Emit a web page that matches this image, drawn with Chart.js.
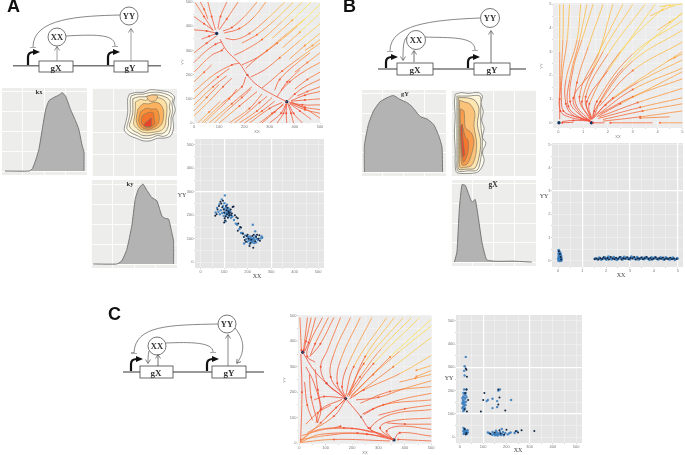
<!DOCTYPE html>
<html>
<head>
<meta charset="utf-8">
<title>Panels</title>
<script src="https://cdn.jsdelivr.net/npm/chart.js@4"></script>
<style>
  html, body { margin: 0; padding: 0; background: #fff; }
  body { position: relative; width: 685px; height: 455px; overflow: hidden; }
  canvas { position: absolute; filter: blur(0.4px); }
  svg { position: absolute; left: 0; top: 0; filter: blur(0.35px); }
  .srf { font-family: "Liberation Serif", serif; font-weight: bold; fill: #333; }
  .nm { font-family: "Liberation Serif", serif; fill: #444; font-size: 6px; text-anchor: middle; }
  .sm { font-family: "Liberation Sans", sans-serif; fill: #777; font-size: 4px; text-anchor: middle; }
  .tag { font-family: "Liberation Sans", sans-serif; font-weight: bold; font-size: 18px; fill: #111; }
</style>
</head>
<body>
<svg width="685" height="455" viewBox="0 0 685 455" fill="none">
  <defs>
    <marker id="open" markerWidth="6" markerHeight="6" refX="4" refY="3" orient="auto" markerUnits="userSpaceOnUse">
      <path d="M0.5 0.5L4.5 3L0.5 5.5" stroke="#555" stroke-width="0.7" fill="none"/>
    </marker>
    <marker id="bar" markerWidth="6" markerHeight="6" refX="0.5" refY="3" orient="auto" markerUnits="userSpaceOnUse">
      <path d="M0.5 0V6" stroke="#555" stroke-width="1"/>
    </marker>
    <marker id="solid" markerWidth="8" markerHeight="8" refX="3" refY="4" orient="auto" markerUnits="userSpaceOnUse">
      <path d="M0 1L7 4L0 7Z" fill="#111"/>
    </marker>
  </defs>

  <!-- A -->
  <text class="tag" x="7" y="12">A</text>
  <path d="M13 65.7H161" stroke="#777" stroke-width="1.6"/>
  <path d="M28 65V57Q28 52 34 52H36" stroke="#111" stroke-width="2.2" marker-end="url(#solid)"/>
  <path d="M108 65V57Q108 52 114 52H116" stroke="#111" stroke-width="2.2" marker-end="url(#solid)"/>
  <rect x="39" y="61" width="34" height="11" fill="#fff" stroke="#444" stroke-width="0.8"/>
  <rect x="114" y="61" width="34" height="11" fill="#fff" stroke="#444" stroke-width="0.8"/>
  <text class="srf" x="56" y="70.5" font-size="9" text-anchor="middle">gX</text>
  <text class="srf" x="130" y="70.5" font-size="9" text-anchor="middle">gY</text>
  <circle cx="57" cy="37" r="9" fill="#fff" stroke="#555" stroke-width="0.8"/>
  <circle cx="129" cy="16" r="9" fill="#fff" stroke="#555" stroke-width="0.8"/>
  <text class="srf" x="57" y="40" font-size="8.5" text-anchor="middle">XX</text>
  <text class="srf" x="129" y="19" font-size="8.5" text-anchor="middle">YY</text>
  <path d="M57 61V47" stroke="#888" stroke-width="0.8" marker-end="url(#open)"/>
  <path d="M131 61V29" stroke="#888" stroke-width="0.8" marker-end="url(#open)"/>
  <path d="M120 15C80 16 33 18 33 47" stroke="#555" stroke-width="0.7" marker-end="url(#bar)"/>
  <path d="M66 36C100 34 115 35 115 46" stroke="#555" stroke-width="0.7" marker-end="url(#bar)"/>

  <!-- B -->
  <text class="tag" x="343" y="12">B</text>
  <path d="M378 69H526" stroke="#777" stroke-width="1.6"/>
  <path d="M386 68V62Q386 57 392 57H394" stroke="#111" stroke-width="2.2" marker-end="url(#solid)"/>
  <path d="M468 68V62Q468 57 474 57H476" stroke="#111" stroke-width="2.2" marker-end="url(#solid)"/>
  <rect x="397" y="63" width="36" height="12" fill="#fff" stroke="#444" stroke-width="0.8"/>
  <rect x="474" y="63" width="36" height="12" fill="#fff" stroke="#444" stroke-width="0.8"/>
  <text class="srf" x="415" y="72.5" font-size="9" text-anchor="middle">gX</text>
  <text class="srf" x="492" y="72.5" font-size="9" text-anchor="middle">gY</text>
  <circle cx="416" cy="40" r="9.5" fill="#fff" stroke="#555" stroke-width="0.8"/>
  <circle cx="490" cy="18" r="9.5" fill="#fff" stroke="#555" stroke-width="0.8"/>
  <text class="srf" x="416" y="43" font-size="8.5" text-anchor="middle">XX</text>
  <text class="srf" x="490" y="21" font-size="8.5" text-anchor="middle">YY</text>
  <path d="M414 62V51" stroke="#333" stroke-width="0.7" marker-end="url(#open)"/>
  <path d="M491 63V31" stroke="#333" stroke-width="0.7" marker-end="url(#open)"/>
  <path d="M407 37C403 40 403 50 403 60" stroke="#555" stroke-width="0.7" marker-end="url(#open)"/>
  <path d="M480 18C430 20 390 25 390 51" stroke="#555" stroke-width="0.7" marker-end="url(#bar)"/>
  <path d="M425 37C450 38 475 36 475 50" stroke="#555" stroke-width="0.7" marker-end="url(#bar)"/>

  <!-- C -->
  <text class="tag" x="108" y="320">C</text>
  <path d="M123 372H264" stroke="#777" stroke-width="1.6"/>
  <path d="M131 371V364Q131 359 137 359H139" stroke="#111" stroke-width="2.2" marker-end="url(#solid)"/>
  <path d="M207 371V364Q207 359 213 359H215" stroke="#111" stroke-width="2.2" marker-end="url(#solid)"/>
  <rect x="140" y="366" width="33" height="12" fill="#fff" stroke="#444" stroke-width="0.8"/>
  <rect x="212" y="366" width="34" height="12" fill="#fff" stroke="#444" stroke-width="0.8"/>
  <text class="srf" x="156" y="375.5" font-size="9" text-anchor="middle">gX</text>
  <text class="srf" x="229" y="375.5" font-size="9" text-anchor="middle">gY</text>
  <circle cx="157" cy="346" r="9" fill="#fff" stroke="#555" stroke-width="0.8"/>
  <circle cx="227" cy="324" r="9" fill="#fff" stroke="#555" stroke-width="0.8"/>
  <text class="srf" x="157" y="349" font-size="8.5" text-anchor="middle">XX</text>
  <text class="srf" x="227" y="327" font-size="8.5" text-anchor="middle">YY</text>
  <path d="M158 366V355" stroke="#333" stroke-width="0.7" marker-end="url(#open)"/>
  <path d="M228 366V335" stroke="#555" stroke-width="0.7" marker-end="url(#open)"/>
  <path d="M149 351C148 355 148 359 148 363" stroke="#555" stroke-width="0.7" marker-end="url(#open)"/>
  <path d="M218 324C170 325 135 325 134 353" stroke="#555" stroke-width="0.7" marker-end="url(#bar)"/>
  <path d="M166 343C190 342 213 342 213 352" stroke="#555" stroke-width="0.7" marker-end="url(#bar)"/>
  <path d="M235 328C245 340 245 352 237 363" stroke="#555" stroke-width="0.7" marker-end="url(#open)"/>

  <!-- noms des panneaux et des axes -->
  <text class="srf" x="39" y="94" font-size="6.5" text-anchor="middle">kx</text>
  <text class="srf" x="130" y="186" font-size="6.5" text-anchor="middle">ky</text>
  <text class="srf" x="405" y="96" font-size="6.5" text-anchor="middle">gY</text>
  <text class="srf" x="493" y="187" font-size="7.5" text-anchor="middle">gX</text>
  <text class="nm" x="182" y="197">YY</text>
  <text class="nm" x="257" y="278">XX</text>
  <text class="nm" x="544" y="198">YY</text>
  <text class="nm" x="621" y="276.5">XX</text>
  <text class="nm" x="449" y="380">YY</text>
  <text class="nm" x="518" y="452">XX</text>
  <text class="sm" transform="translate(184 62) rotate(-90)">YY</text>
  <text class="sm" transform="translate(543 66) rotate(-90)">YY</text>
  <text class="sm" transform="translate(286 380) rotate(-90)">YY</text>
</svg>

<script>
// graduations
const ticksHundreds = [0, 50, 100, 150, 200, 250, 300, 350, 400, 450, 500];
const ticksUnits = [0, .5, 1, 1.5, 2, 2.5, 3, 3.5, 4, 4.5, 5];

// densites, x puis y
const kxX = [4.6, 32.7, 36.5, 40.4, 44.2, 48, 52, 55.8, 61.5, 67.3, 71, 75, 80.8, 86.5, 90.4, 94.2, 96.5, 96.5];
const kxY = [0, 0, .03, .14, .28, .53, .78, .89, .93, .96, .99, .95, .78, .64, .53, .33, .24, 0];
const kyX = [2.7, 30, 35.8, 41.6, 47.5, 51.4, 55.3, 60.3, 65, 70.8, 76.6, 82.4, 86.3, 90.3, 94, 96, 96];
const kyY = [0, 0, .04, .18, .48, .81, .94, 1, .92, .83, .79, .6, .57, .56, .39, .29, 0];
const gYX = [4, 4, 8.7, 14.6, 22.4, 32.3, 38.2, 45.8, 53.9, 59.8, 69.7, 77.6, 85.4, 91.3, 95.3, 96];
const gYY = [0, .34, .61, .78, .9, .96, .98, .93, .89, .84, .71, .68, .61, .47, .32, 0];
const gXX = [4, 7, 9.8, 12.9, 16.8, 20.7, 24.6, 28.5, 32.4, 36.3, 42, 54, 73, 95];
const gXY = [0, .13, .68, .99, .98, .87, .77, .8, .55, .26, .03, .01, .012, 0];

// contours (x,y,x,y...) du plus large au plus petit
const contourA = [
  [44,93,52,95,60,95,69,98,81,97,91,95,97,90,96,83,98,75,95,66,96,56,93,46,85,43,77,43,69,40,60,40,52,43,44,46,38,52,40,62,42,71,42,81,42,88],
  [46,91,53,93,60,93,69,95,80,95,90,92,95,88,94,82,95,74,93,66,93,57,90,48,84,45,77,46,69,43,60,43,53,46,46,49,41,54,43,63,45,72,45,81,45,87],
  [48,88,55,90,62,90,70,92,79,92,88,89,92,85,91,79,92,73,90,65,90,58,87,51,82,48,76,48,68,46,60,46,54,49,48,52,44,57,46,64,48,72,48,81],
  [51,84,57,87,63,86,70,88,78,89,85,86,88,80,88,72,87,64,86,57,82,52,74,50,66,49,59,50,54,53,49,59,50,67,51,76],
  [64,90,70,92,77,91,75,86,68,85],
  [54,76,60,82,67,82,73,84,80,82,84,75,84,66,82,59,76,54,66,52,58,53,54,57,52,64],
  [57,73,64,77,70,76,76,76,79,68,78,60,72,55,65,53,58,56,55,63],
  [60,69,66,72,72,72,73,66,74,60,70,56,64,55,59,59,58,64],
  [62,60,67,64,70,66,70,60,70,57,65,56,61,57]
];
const contourB = [
  [5,95,12,97,20,96,32,97,37,93,35,85,38,75,36,65,39,55,37,45,41,38,37,28,39,18,35,8,30,4,20,3,7,4,5,12,5,30,4,50,5,70,4,85],
  [7,93,20,93,34,93,35,80,35,60,37,40,35,20,31,7,20,6,8,6,7,20,7,40,7,60,7,80],
  [8.5,91,18,91,28,88,33,78,31,60,35,40,33,22,28,9,18,8,9,8,8.5,20,8.5,40,8.5,60,8.5,80],
  [10,88,16,86,22,84,28,74,27,58,30,40,29,24,24,12,16,10,10.5,10,10,30,10,50,10,70],
  [11,78,15,76,16,66,17,56,24,50,27,40,24,25,19,14,13,13,11.5,30,11,55],
  [12,60,14,56,17,45,20,42,20,28,15,16,13,22,12,40],
  [11.5,58,13.5,60,13.5,48,15,35,16,25,14,22,12.5,35,11.5,48]
];
const contourFillA = ["#fffdf2", "#fff8e2", "#fdf0cc", "#fde0a4", "#fbc98a", "#fbb25f", "#f8923a", "#f4762c", "#e8432a"];
const contourFillB = ["#fffdf0", "#fff5d8", "#fde6b0", "#fbc27a", "#f89c4c", "#f5762f", "#e8482a"];

// lignes de courant (x,y,x,y...)
const streamA = [
  [103,347,129,300,182,245,212,198,250,157,315,116,368,88],
  [285,500,240,440,180,390,120,372],
  [360,500,290,430,220,370,165,345,125,350],
  [430,500,350,420,270,345,200,300,160,280],
  [500,490,410,400,330,330,250,270,190,240],
  [500,410,420,340,340,270,280,220,225,190],
  [500,330,420,270,350,215,300,170,270,145],
  [500,250,440,215,380,170,340,125,330,108],
  [500,180,440,150,400,120,375,95],
  [500,130,440,115,385,92],
  [500,75,430,75,378,86],
  [500,40,440,55,380,82],
  [465,500,390,425,310,350],
  [500,455,420,375,350,310],
  [500,370,440,320,380,265],
  [500,290,450,250,400,210],
  [395,500,320,425,250,365,190,330],
  [250,500,200,440,150,395,115,380],
  [500,210,450,180,400,140],
  [500,150,450,130,410,112],
  [460,290,400,240,340,180,320,135],
  [420,220,370,170,345,135],
  [440,430,370,370,290,300,230,250,205,225],
  [500,345,470,320,440,300],
  [55,500,70,440,85,385],
  [5,497,40,440,76,381],
  [25,500,40,470,55,430],
  [130,500,105,440,95,390],
  [175,500,130,430,100,385],
  [0,440,40,410,75,385],
  [0,385,50,380,85,372],
  [30,347,60,358,83,368],
  [0,290,50,330,90,360],
  [0,250,45,295,85,325,110,335],
  [0,210,70,280,110,300,120,312],
  [0,130,80,200,150,240,180,247],
  [0,100,40,140,95,190,140,225],
  [0,75,76,150,130,195],
  [0,50,50,105,100,160],
  [0,30,60,90,115,150,150,185],
  [15,0,60,45,105,90],
  [30,0,110,80,190,150,205,190],
  [40,0,90,50,140,100,170,140],
  [60,0,150,80,230,150],
  [80,0,130,50,190,105,225,140],
  [100,0,180,70,250,130],
  [140,0,220,60,270,120],
  [160,0,210,40,260,85,290,110],
  [180,0,250,50,310,105],
  [200,0,270,50,320,90],
  [220,0,300,60,350,85],
  [260,0,310,40,355,75],
  [270,0,320,45,355,80],
  [300,0,345,40,365,80],
  [330,0,355,40,366,78],
  [368,0,366,40,368,82],
  [395,0,385,40,372,80],
  [430,0,395,40,375,80],
  [465,15,420,50,380,80],
  [500,20,440,60,390,82],
  [500,55,440,65,385,85],
  [500,100,440,95,385,90],
  [0,170,40,210,70,240]
];
const streamB = [
  [.05,5,.05,3,.05,1,.05,.15],
  [.2,5,.18,3.5,.08,1.5,.08,.5,.5,.22,1.2,.1],
  [.45,5,.35,3.5,.15,2,.12,1,.2,.5,.55,.3,1,.18,1.28,.05],
  [.9,5,.75,3.5,.3,1.8,.3,.8,.55,.35,1,.15,1.3,.05],
  [1.15,5,.85,3.5,.45,1.8,.4,.7,.9,.2,1.3,.07],
  [1.4,5,.95,3.5,.6,2.3,.47,.9,.8,.4,1.3,.07],
  [1.8,5,1.2,3.2,.75,1.7,.7,.8,1.25,.1],
  [2.2,5,1.4,2.3,.6,1.05,.9,.35,1.3,.08],
  [2.6,5,1.6,2.9,.85,1.1,1.28,.12],
  [3,5,1.8,3,.95,.9,1.3,.15],
  [3.5,5,2,2.9,1.1,1.1,1.32,.12],
  [3.9,5,2,2.2,1.15,.9,1.33,.15],
  [4.4,5,2.5,3,1.25,.8,1.35,.15],
  [5,4.65,2.6,2.3,1.45,.5,1.37,.15],
  [5,4.3,3,2.9,1.55,.9,1.4,.18],
  [5,3.9,3,2.6,1.7,.9,1.42,.2],
  [5,3.4,3,2.2,1.65,.7],
  [5,3,2.2,1.05,1.47,.3],
  [5,2.65,3.2,1.7,1.9,.75,1.45,.22],
  [5,2.3,3,1.4,1.6,.35],
  [5,2.15,2.5,.8,1.55,.25],
  [5,1.85,3,1.1,1.7,.4],
  [5,1.45,3.2,.85,1.65,.25],
  [5,1.05,3.3,.65,1.6,.18],
  [5,.8,3.4,.5,1.8,.14],
  [5,.5,3.3,.25,1.8,.07],
  [3.7,4.5,4.2,4.75,4.7,4.95],
  [4,3.9,4.5,4.25,5,4.6],
  [4.1,4.9,4.5,4.95,5,5],
  [4.4,2.6,4.7,2.75,5,2.9],
  [4.5,.25,3.3,.2],
  [5,0,4.1,0],
  [3.8,0,2.1,0],
  [1.85,0,1.4,0],
  [1.25,.08,.6,.1,.15,.05],
  [.6,.02,.15,0]
];
const streamC = [
  [13,357,56,286,103,235,175,175],
  [178,172,234,103,262,60,300,35,356,13],
  [2,3,81,80,175,175],
  [2,493,8,365],
  [31,493,16,364],
  [45,493,25,400,18,365],
  [6,350,10,200,5,5],
  [38,270,45,180,70,80],
  [20,240,30,150,50,90],
  [60,290,70,210,85,130],
  [62,493,35,395,20,360],
  [88,493,40,395,30,340,60,318],
  [110,493,60,390,40,340],
  [131,493,80,390,45,345],
  [156,493,106,364,81,300,103,235,156,190],
  [194,493,131,350,119,260,169,183],
  [231,493,156,325,144,235,172,180],
  [275,493,181,300,162,222,175,180],
  [331,493,206,300,175,183],
  [360,493,250,340,190,190],
  [394,493,244,312,181,183],
  [425,493,310,370,230,260,185,190],
  [456,493,281,312,187,183],
  [500,486,344,338,194,180],
  [500,460,380,360,280,270,195,185],
  [500,415,356,300,206,183],
  [500,344,381,273,244,209,190,174],
  [500,305,444,286],
  [500,285,444,262],
  [500,270,440,255,380,240],
  [500,245,400,215,300,180,215,170],
  [500,222,344,203,231,157],
  [500,196,380,170,280,135,240,115],
  [500,170,319,151,244,112],
  [500,150,400,135,300,110],
  [500,132,344,112,269,60,294,41,354,15],
  [500,99,344,86,306,60,356,15],
  [500,75,400,75,330,80],
  [500,54,381,67,331,48,356,15],
  [500,28,381,41,360,15],
  [500,9,375,15],
  [2,9,56,48,169,60,300,40,356,13],
  [2,3,81,35,256,35,350,15],
  [6,3,131,15,344,9],
  [10,30,100,55,200,58,280,42],
  [2,14,100,30,220,40,320,25],
  [131,60,156,67],
  [31,41,131,106,175,170],
  [63,80,81,132,162,172],
  [25,75,70,120,120,150],
  [100,100,140,140,172,170],
  [56,170,94,183,169,177],
  [25,300,56,235,81,132,69,80]
];
const stableA = [[90,370],[368,88]];
const saddleA = [[212,198]];
const stableB = [[.02,0],[1.33,0]];
const saddleB = [];
const stableC = [[13,357],[175,175],[359,13]];
const saddleC = [[103,235],[234,103]];

// nuages de points
const scatterADark = [[62,198],[68,205],[72,225],[78,240],[84,258],[88,250],[92,235],[95,262],[98,225],[100,212],[102,188],[104,178],[106,195],[108,240],[110,222],[112,205],[114,232],[116,190],[118,218],[120,210],[122,200],[124,212],[128,225],[130,200],[133,208],[136,236],[140,238],[146,200],[152,192],[158,188],[160,165],[168,150],[172,148],[158,135],[180,122],[184,108],[188,95],[192,88],[196,112],[200,118],[204,100],[208,70],[212,82],[216,96],[220,112],[224,62],[226,118],[232,90],[236,108],[240,118],[246,100],[250,115],[252,92],[100,170]];
const scatterABlue = [[64,212],[70,232],[76,215],[80,248],[82,205],[86,222],[90,268],[92,210],[96,240],[98,198],[100,228],[101,252],[103,285],[104,208],[106,220],[107,175],[108,232],[109,198],[110,210],[112,245],[113,222],[115,212],[117,205],[118,230],[120,195],[122,222],[125,205],[127,215],[129,190],[135,195],[142,180],[150,165],[155,160],[165,142],[172,125],[185,80],[190,115],[195,100],[198,88],[202,108],[205,92],[207,100],[209,78],[210,110],[212,95],[214,104],[216,88],[218,98],[220,85],[222,100],[222,160],[224,92],[226,105],[228,82],[230,98],[232,132],[234,112],[236,85],[240,100],[244,95],[262,105],[260,110],[178,125],[255,102]];
const scatterBDark = [[1.52,.07],[1.6,.1],[1.68,.06],[1.76,.12],[1.84,.08],[1.9,.16],[1.98,.09],[2.06,.13],[2.12,.06],[2.2,.17],[2.28,.1],[2.35,.07],[2.42,.14],[2.5,.09],[2.58,.17],[2.65,.06],[2.72,.12],[2.8,.09],[2.88,.16],[2.95,.07],[3.02,.13],[3.1,.1],[3.18,.17],[3.25,.06],[3.33,.12],[3.4,.09],[3.48,.15],[3.55,.07],[3.62,.12],[3.7,.17],[3.78,.08],[3.85,.13],[3.92,.06],[4,.11],[4.08,.16],[4.15,.07],[4.22,.12],[4.3,.09],[4.38,.15],[4.45,.06],[4.52,.11],[4.6,.08],[4.68,.14],[4.76,.07],[4.84,.1],[4.95,.08],[.03,.42],[.07,.3],[.1,.17],[.12,.06]];
const scatterBBlue = [[1.55,.1],[1.65,.08],[1.72,.13],[1.8,.07],[1.88,.11],[1.95,.14],[2.02,.07],[2.1,.18],[2.16,.11],[2.24,.08],[2.32,.15],[2.4,.09],[2.46,.06],[2.54,.12],[2.62,.14],[2.7,.08],[2.76,.16],[2.84,.11],[2.92,.12],[3,.08],[3.06,.18],[3.14,.13],[3.22,.09],[3.3,.15],[3.36,.07],[3.44,.11],[3.52,.13],[3.6,.09],[3.66,.15],[3.74,.11],[3.82,.06],[3.9,.14],[3.96,.09],[4.04,.14],[4.12,.1],[4.2,.08],[4.28,.14],[4.36,.1],[4.42,.07],[4.5,.14],[4.58,.1],[4.66,.07],[4.72,.11],[4.8,.13],[4.88,.06],[4.98,.11],[.02,.03],[.04,.08],[.06,.13],[.03,.18],[.08,.22],[.05,.27],[.02,.32],[.06,.37],[.02,.45],[.1,.09],[.09,.03],[.12,.14],[.11,.22],[.07,.05],[.01,.1],[.04,.23],[.09,.3],[.13,.08],[.05,.01],[.12,.02]];
const scatterCDark = [[105,190],[100,160],[90,110],[165,205],[170,170],[195,115],[165,140],[25,295],[28,290],[30,260],[28,205],[22,190],[30,110],[35,160],[20,120],[170,30],[200,32],[240,25],[250,20],[320,27],[265,30],[190,12],[175,16],[150,20],[130,15],[28,18],[20,35],[25,12]];
const scatterCBlue = [[25,345],[20,305],[18,285],[20,265],[18,205],[28,205],[15,190],[20,185],[24,180],[14,175],[18,170],[22,165],[13,160],[17,155],[12,150],[20,148],[15,142],[19,135],[13,130],[22,125],[16,120],[18,115],[14,112],[10,168],[11,145],[25,190],[28,172],[26,152],[10,125],[24,138],[120,160],[115,155],[140,125],[140,165],[160,130],[160,155],[165,200],[172,205],[220,160],[15,40],[20,35],[17,30],[24,30],[15,25],[21,24],[28,27],[18,18],[24,18],[16,14],[30,15],[34,20],[33,30],[125,18],[132,14],[138,10],[145,16],[150,8],[155,13],[160,20],[162,7],[168,12],[172,22],[176,9],[180,14],[185,22],[188,8],[195,18],[205,12],[212,17],[218,20],[235,18],[245,26],[155,28],[180,35],[120,20],[140,22],[148,12],[158,10],[165,16]];

Chart.register({
  id: "panelBg",
  beforeDraw(chart) {
    const a = chart.chartArea;
    chart.ctx.fillStyle = chart.config.options.plugins.panelColor || "#ececec";
    chart.ctx.fillRect(a.left, a.top, a.width, a.height);
  }
});

function toPts(xs, ys) {
  return xs.map((x, i) => ({ x: x, y: ys[i] }));
}
function flatPts(a) {
  const out = [];
  for (let i = 0; i < a.length; i += 2) out.push({ x: a[i], y: a[i + 1] });
  return out;
}
function pairPts(a) {
  return a.map(p => ({ x: p[0], y: p[1] }));
}

// rampe rouge -> jaune selon la distance au point fixe le plus proche
function heat(t) {
  const stops = [[240, 70, 55], [246, 110, 55], [252, 170, 65], [253, 231, 80]];
  const pos = [0, .42, .72, 1];
  t = Math.min(1, Math.max(0, t));
  let i = 0;
  while (i < 2 && t > pos[i + 1]) i++;
  const f = (t - pos[i]) / (pos[i + 1] - pos[i]);
  const c = stops[i].map((v, k) => Math.round(v + (stops[i + 1][k] - v) * f));
  return "rgb(" + c.join(",") + ")";
}

function addChart(box, margin, scales, datasets, color) {
  const c = document.createElement("canvas");
  const w = box.w + margin.l + 3;
  const h = box.h + margin.b + 3;
  c.width = w;
  c.height = h;
  c.style.left = (box.x - margin.l) + "px";
  c.style.top = (box.y - 3) + "px";
  c.style.width = w + "px";
  c.style.height = h + "px";
  document.body.insertBefore(c, document.querySelector("svg"));
  return new Chart(c, {
    type: "scatter",
    data: { datasets: datasets },
    options: {
      responsive: false,
      animation: false,
      layout: { padding: { top: 3, right: 3, left: 0, bottom: 0 } },
      plugins: { legend: { display: false }, tooltip: { enabled: false }, panelColor: color },
      scales: scales
    }
  });
}

function plainAxis(min, max, step, size, isX) {
  return {
    type: "linear", min: min, max: max, border: { display: false },
    ticks: { display: false, stepSize: step, includeBounds: false },
    grid: { color: "rgba(255,255,255,.85)", lineWidth: 1, drawTicks: false },
    afterFit: s => { if (isX) s.height = size; else s.width = size; }
  };
}

function tickAxis(min, max, vals, major, strong, size, isX, name) {
  return {
    type: "linear", min: min, max: max, border: { display: false },
    title: { display: !!name, text: name, font: { size: 4, family: "Liberation Sans" }, color: "#777", padding: 0 },
    afterBuildTicks: s => { s.ticks = vals.map(v => ({ value: v })); },
    ticks: {
      autoSkip: false, maxRotation: 0,
      font: { size: 4, family: "Liberation Sans" }, color: "#777", padding: .5,
      callback: v => Math.abs(v / major - Math.round(v / major)) < 1e-6 ? String(v) : ""
    },
    grid: {
      tickLength: 1, tickColor: "#aaa", tickWidth: .5,
      color: ctx => strong.includes(ctx.tick.value) ? "rgba(255,255,255,1)" : "rgba(255,255,255,.5)",
      lineWidth: ctx => strong.includes(ctx.tick.value) ? 1.2 : .6
    },
    afterFit: s => { if (isX) s.height = size; else s.width = size; }
  };
}

function densityChart(box, xs, ys) {
  addChart(box, { l: 0, b: 0 }, {
    x: plainAxis(0, 100, 25, 0, true),
    y: plainAxis(-.05, 1.05, .25, 0, false)
  }, [{
    data: toPts(xs, ys), showLine: true, fill: "origin", tension: .15,
    backgroundColor: "#b3b3b3", borderColor: "#777", borderWidth: 1, pointRadius: 0
  }], "#ededeb");
}

function contourChart(box, rings, fills) {
  addChart(box, { l: 0, b: 0 }, {
    x: plainAxis(0, 100, 25, 0, true),
    y: plainAxis(0, 100, 25, 0, false)
  }, rings.map((r, i) => {
    const pts = flatPts(r);
    pts.push(pts[0]);
    return {
      data: pts, showLine: true, fill: "shape", tension: .3, order: rings.length - i,
      backgroundColor: fills[i], borderColor: i < 3 ? "#666" : "#8a7a60", borderWidth: .7, pointRadius: 0
    };
  }), "#ededeb");
}

function streamChart(box, lines, stable, saddle, norm, xr, yr, vals, major, bottom) {
  const fixed = stable.concat(saddle);
  const heatAt = (x, y) => heat(Math.min(...fixed.map(f => Math.hypot(x - f[0], y - f[1]))) / norm);
  const sets = lines.map(l => {
    const pts = flatPts(l);
    const mid = Math.floor(pts.length / 2);
    return {
      data: pts, showLine: true, tension: .4, borderWidth: .8,
      pointRadius: ctx => ctx.dataIndex === mid ? 1 : 0,
      pointBackgroundColor: ctx => heatAt(pts[mid].x, pts[mid].y),
      pointBorderWidth: 0,
      segment: { borderColor: ctx => heatAt(ctx.p0.parsed.x, ctx.p0.parsed.y) }
    };
  });
  sets.push({ data: pairPts(saddle), pointRadius: 1.2, pointBackgroundColor: "#9a9a9a", pointBorderWidth: 0 });
  sets.push({ data: pairPts(stable), pointRadius: 1.7, pointBackgroundColor: "#14335c", pointBorderWidth: 0 });
  addChart(box, { l: 10, b: bottom }, {
    x: tickAxis(xr[0], xr[1], vals, major, [], bottom, true, "XX"),
    y: tickAxis(yr[0], yr[1], vals, major, [], 10, false, "")
  }, sets, "#ececec");
}

function scatterChart(box, dark, blue, xr, yr, vals, major, sx, sy, radius) {
  addChart(box, { l: 10, b: 7 }, {
    x: tickAxis(xr[0], xr[1], vals, major, sx, 7, true, ""),
    y: tickAxis(yr[0], yr[1], vals, major, sy, 10, false, "")
  }, [
    { data: pairPts(dark), pointRadius: 1, pointBackgroundColor: "#14263f", pointBorderWidth: 0 },
    { data: pairPts(blue), pointRadius: radius, pointBackgroundColor: "rgba(58,125,190,.9)", pointBorderWidth: 0 }
  ], "#e5e5e5");
}

densityChart({ x: 1, y: 88, w: 86, h: 87 }, kxX, kxY);
contourChart({ x: 92, y: 88, w: 85, h: 88 }, contourA, contourFillA);
densityChart({ x: 91, y: 180, w: 86, h: 88 }, kyX, kyY);
streamChart({ x: 194, y: 1, w: 127, h: 122 }, streamA, stableA, saddleA, 400, [0, 500], [0, 500], ticksHundreds, 100, 11);
scatterChart({ x: 195, y: 138, w: 130, h: 130 }, scatterADark, scatterABlue, [-24, 525], [-24, 525], ticksHundreds, 100, [100, 300], [300], 1.2);

densityChart({ x: 361, y: 90, w: 85, h: 86 }, gYX, gYY);
contourChart({ x: 451, y: 90, w: 85, h: 86 }, contourB, contourFillB);
densityChart({ x: 451, y: 180, w: 85, h: 86 }, gXX, gXY);
streamChart({ x: 553, y: 2, w: 131, h: 126 }, streamB, stableB, saddleB, 6.3, [-.22, 5.03], [-.22, 5.05], ticksUnits, 1, 11);
scatterChart({ x: 552, y: 142, w: 132, h: 125 }, scatterBDark, scatterBBlue, [-.26, 5.22], [-.26, 5.06], ticksUnits, 1, [1, 3, 5], [3], 1.6);

streamChart({ x: 298, y: 314, w: 135, h: 130 }, streamC, stableC, saddleC, 460, [-5, 503], [-3, 503], ticksHundreds, 100, 11);
scatterChart({ x: 456, y: 314, w: 127, h: 129 }, scatterCDark, scatterCBlue, [-17, 525], [-25, 525], ticksHundreds, 100, [100, 300], [100, 300], 1.2);
</script>
</body>
</html>
